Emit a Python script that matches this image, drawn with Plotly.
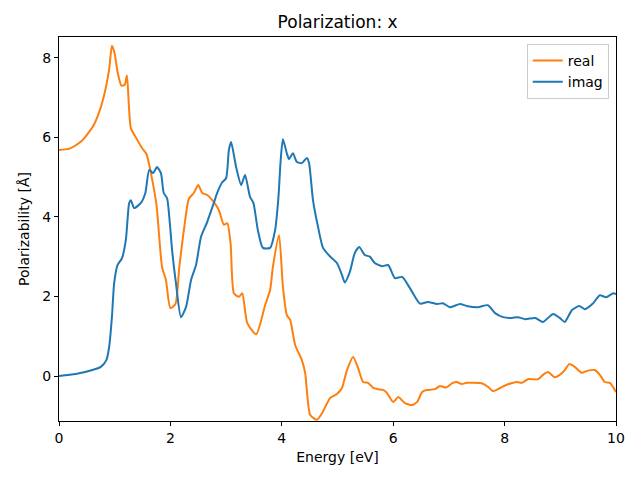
import plotly.graph_objects as go

real_E = [0, 0.2, 0.4, 0.6, 0.7, 0.8, 0.9, 0.95, 1.0, 1.05, 1.12, 1.18, 1.22, 1.29, 1.4, 1.49, 1.57, 1.65, 1.75,
          1.85, 1.92, 2.0, 2.09, 2.16, 2.25, 2.33, 2.42, 2.5, 2.57, 2.66, 2.78, 2.87, 2.96, 3.02, 3.08, 3.14,
          3.23, 3.29, 3.38, 3.54, 3.70, 3.79, 3.84, 3.95, 4.02, 4.09, 4.15, 4.24, 4.36, 4.42, 4.51, 4.63, 4.72,
          4.87, 4.99, 5.08, 5.17, 5.28, 5.37, 5.46, 5.55, 5.64, 5.73, 5.82, 5.89, 6.0, 6.09, 6.21, 6.34, 6.43,
          6.52, 6.6, 6.75, 6.84, 6.95, 7.06, 7.14, 7.23, 7.32, 7.59, 7.7, 7.79, 7.92, 8.04, 8.22, 8.31, 8.42,
          8.6, 8.69, 8.78, 8.9, 8.99, 9.08, 9.16, 9.26, 9.39, 9.48, 9.62, 9.71, 9.8, 9.89, 10.0]
real_v = [5.68, 5.72, 5.9, 6.25, 6.55, 7.0, 7.7, 8.3, 8.1, 7.65, 7.3, 7.32, 7.55, 6.23, 5.95, 5.73, 5.58, 5.1, 4.3,
          2.74, 2.41, 1.71, 1.81, 2.74, 3.75, 4.45, 4.6, 4.8, 4.6, 4.55, 4.37, 4.17, 3.8, 3.84, 3.34, 2.08,
          1.99, 2.08, 1.33, 1.05, 1.78, 2.16, 2.74, 3.54, 2.24, 1.53, 1.41, 0.78, 0.40, 0.07, -0.98, -1.1, -0.94,
          -0.55, -0.45, -0.30, 0.15, 0.48, 0.2, -0.15, -0.17, -0.3, -0.33, -0.35, -0.43, -0.65, -0.53, -0.68, -0.73, -0.65,
          -0.4, -0.35, -0.33, -0.25, -0.29, -0.18, -0.15, -0.2, -0.17, -0.18, -0.27, -0.38, -0.30, -0.22, -0.15, -0.17, -0.08,
          -0.08, 0.03, 0.1, -0.03, 0.03, 0.15, 0.3, 0.23, 0.08, 0.13, 0.15, 0.03, -0.15, -0.17, -0.4]

imag_E = [0, 0.3, 0.6, 0.75, 0.85, 0.9, 0.95, 0.99, 1.05, 1.13, 1.2, 1.26, 1.29, 1.35, 1.47, 1.55, 1.62, 1.69,
          1.76, 1.83, 1.88, 1.94, 1.99, 2.03, 2.1, 2.19, 2.28, 2.37, 2.46, 2.55, 2.66, 2.78, 2.84, 2.93, 3.0,
          3.05, 3.09, 3.18, 3.27, 3.34, 3.43, 3.49, 3.57, 3.66, 3.79, 3.88, 3.94, 3.98, 4.02, 4.09, 4.13, 4.2,
          4.27, 4.36, 4.45, 4.49, 4.56, 4.65, 4.74, 4.87, 4.99, 5.08, 5.13, 5.22, 5.31, 5.39, 5.49, 5.58, 5.67,
          5.8, 5.91, 6.03, 6.16, 6.3, 6.48, 6.62, 6.79, 6.89, 7.02, 7.2, 7.32, 7.52, 7.7, 7.83, 7.97, 8.13,
          8.24, 8.37, 8.55, 8.69, 8.87, 8.99, 9.08, 9.21, 9.34, 9.44, 9.59, 9.71, 9.82, 9.95, 10.0]
imag_v = [0.0, 0.05, 0.15, 0.23, 0.4, 0.73, 1.48, 2.33, 2.79, 2.96, 3.42, 4.35, 4.42, 4.22, 4.35, 4.6, 5.18, 5.1,
          5.25, 5.1, 4.6, 4.47, 3.84, 3.17, 2.33, 1.48, 1.73, 2.41, 2.79, 3.5, 3.87, 4.35, 4.6, 4.87, 4.97,
          5.68, 5.88, 5.25, 4.8, 5.05, 4.5, 4.35, 3.67, 3.22, 3.22, 3.67, 4.5, 5.43, 5.95, 5.6, 5.45, 5.6,
          5.38, 5.35, 5.48, 5.35, 4.42, 3.75, 3.22, 3.0, 2.84, 2.54, 2.35, 2.61, 3.09, 3.24, 3.04, 3.0, 2.84,
          2.76, 2.79, 2.46, 2.49, 2.21, 1.82, 1.86, 1.81, 1.83, 1.73, 1.81, 1.76, 1.73, 1.78, 1.58, 1.48, 1.46,
          1.48, 1.43, 1.46, 1.36, 1.56, 1.46, 1.36, 1.66, 1.76, 1.68, 1.83, 2.03, 1.98, 2.08, 2.06]

fig = go.Figure()
fig.add_trace(go.Scatter(x=real_E, y=real_v, mode="lines", name="real",
                         line=dict(color="#ff7f0e", width=2, shape="spline", smoothing=0.6)))
fig.add_trace(go.Scatter(x=imag_E, y=imag_v, mode="lines", name="imag",
                         line=dict(color="#1f77b4", width=2, shape="spline", smoothing=0.6)))

axis_common = dict(showline=True, linecolor="black", linewidth=1, mirror=True, ticks="outside",
                   ticklen=4, tickcolor="black", showgrid=False, zeroline=False,
                   tickfont=dict(size=14, color="black"))
fig.update_layout(
    width=640, height=480,
    margin=dict(l=51, r=32, t=29, b=67, autoexpand=False),
    paper_bgcolor="white", plot_bgcolor="white",
    font=dict(family="DejaVu Sans", size=14, color="black"),
    title=dict(text="Polarization: x", x=0.515, xanchor="center", y=0.971, yanchor="middle",
               font=dict(size=17)),
    xaxis=dict(range=[0, 10], tickvals=[0, 2, 4, 6, 8, 10],
               title=dict(text="Energy [eV]", font=dict(size=14), standoff=7), **axis_common),
    yaxis=dict(range=[-1.13, 8.52], tickvals=[0, 2, 4, 6, 8],
               title=dict(text="Polarizability [Å]", font=dict(size=14), standoff=9), **axis_common),
    legend=dict(x=0.987, xanchor="right", y=0.982, yanchor="top", bordercolor="#cccccc", borderwidth=1,
                bgcolor="rgba(255,255,255,0.8)", font=dict(size=14), itemwidth=30,
                tracegroupgap=0),
    showlegend=True,
)
fig.write_html("out.html")
